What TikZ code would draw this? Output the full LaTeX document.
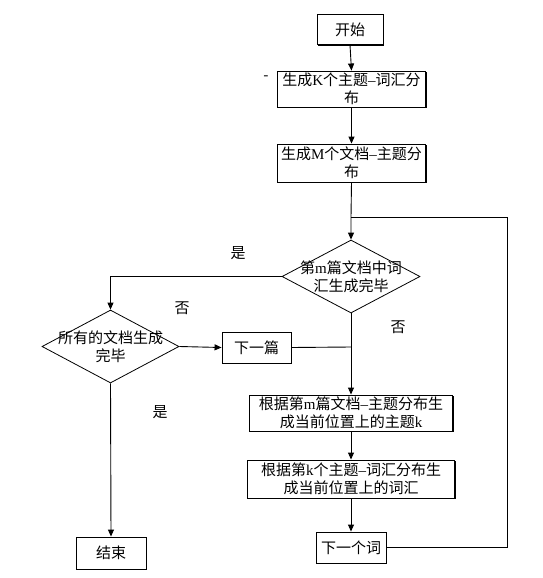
\documentclass[tikz,border=0pt]{standalone}
\usepackage{fontspec}
\setmainfont{Liberation Serif}
\newfontfamily\cjk{Noto Sans CJK SC}
\usetikzlibrary{shapes.geometric,shadows,arrows.meta}
\newcommand\lat[1]{{\rmfamily #1}}
\begin{document}
\begin{tikzpicture}[x=1pt,y=-1pt,
  font=\cjk\fontsize{15}{18}\selectfont,
  box/.style={draw,line width=0.9pt,fill=white,inner sep=0pt,align=center,
    drop shadow={shadow xshift=1.3pt,shadow yshift=-1.3pt,opacity=1,fill=black}},
  dia/.style={draw,line width=0.8pt,shape=diamond,aspect=1.9,inner sep=0pt,minimum width=138pt,minimum height=73pt},
  txt/.style={align=center,inner sep=0pt},
  conn/.style={line width=0.9pt},
  arr/.style={conn,-{Triangle[length=7pt,width=6pt]}}]
\useasboundingbox (0,0) rectangle (542,578);
\fill[white] (0,0) rectangle (542,578);
% nodes
\node[box,minimum width=66pt,minimum height=30pt] (start) at (350,29.5) {开始};
\node[box,minimum width=148pt,minimum height=36pt] (b2) at (351.5,89) {生成\lat{K}个主题\lat{–}词汇分\\布};
\node[box,minimum width=148pt,minimum height=38pt] (b3) at (351.5,163) {生成\lat{M}个文档\lat{–}主题分\\布};
\node[dia] (d1) at (351,276.5) {};
\node[txt] (d1t) at (d1.center) {第\lat{m}篇文档中词\\汇生成完毕};
\node[dia,minimum width=137pt] (d2) at (110.5,346.5) {};
\node[txt] (d2t) at (d2.center) {所有的文档生成\\完毕};
\node[box,minimum width=69pt,minimum height=31pt] (next) at (256.5,347.5) {下一篇};
\node[box,minimum width=203pt,minimum height=36pt] (b4) at (351,413) {根据第\lat{m}篇文档\lat{–}主题分布生\\成当前位置上的主题\lat{k}};
\node[box,minimum width=207pt,minimum height=38pt] (b5) at (351,479) {根据第\lat{k}个主题\lat{–}词汇分布生\\成当前位置上的词汇};
\node[box,minimum width=70pt,minimum height=31pt] (word) at (351,547.5) {下一个词};
\node[box,minimum width=70pt,minimum height=32pt] (end) at (111,553) {结束};
% labels
\node[txt] (l1) at (238,253) {是};
\node[txt] (l2) at (182,308) {否};
\node[txt] (l3) at (398,327) {否};
\node[txt] (l4) at (160,412) {是};
\node[txt] (dash) at (266,78) {-};
% coordinates
\coordinate (J1) at (351,217);
\coordinate (R) at (507,217);
\coordinate (J2) at (351,347);
% connectors
\draw[arr] (start.south) -- (b2.north);
\draw[arr] (b2.south) -- (b3.north);
\draw[arr] (b3.south) -- (J1) -- (d1.north);
\draw[conn] (word.east) -| (R) -- (J1);
\draw[arr] (d1.west) -| (d2.north);
\draw[arr] (d2.east) -- (next.west);
\draw[conn] (next.east) -- (J2);
\draw[arr] (d1.south) -- (b4.north);
\draw[arr] (b4.south) -- (b5.north);
\draw[arr] (b5.south) -- (word.north);
\draw[arr] (d2.south) -- (end.north);
\end{tikzpicture}
\end{document}
